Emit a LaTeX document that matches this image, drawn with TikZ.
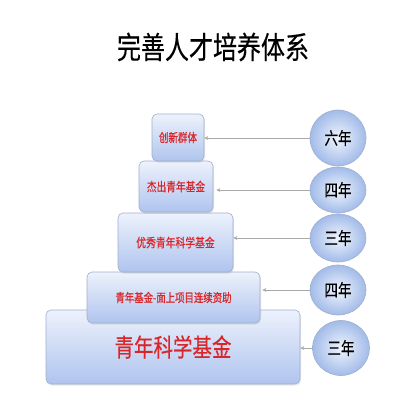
\documentclass[tikz,border=0pt]{standalone}
\usepackage{fontspec}
\setmainfont{Noto Sans CJK SC}
\newfontfamily\medfont[FakeBold=0.8]{Noto Sans CJK SC}
\newfontfamily\semifont[FakeBold=0.4]{Noto Sans CJK SC}
\usetikzlibrary{shapes.geometric,arrows.meta,shadows}
\definecolor{boxtop}{HTML}{EDF2FC}
\definecolor{boxbot}{HTML}{AFC4EE}
\definecolor{boxline}{HTML}{9FAFCB}
\definecolor{ballin}{HTML}{F0F5FD}
\definecolor{ballout}{HTML}{A2BBE9}
\definecolor{redtxt}{HTML}{D8262A}
\definecolor{arrowgray}{HTML}{A9A9A9}
\newcommand\stretchtxt[1]{\scalebox{1}[1.28]{#1}}
\tikzset{
  tier/.style={rectangle, rounded corners=5pt, draw=boxline, line width=0.6pt,
    top color=boxtop, bottom color=boxbot, text=redtxt, inner sep=0pt,
    drop shadow={opacity=0.18, shadow xshift=1pt, shadow yshift=-1.5pt}},
  ball/.style={ellipse, draw=boxline, line width=0.6pt, inner sep=0pt,
    shading=radial, inner color=ballin, outer color=ballout,
    font=\fontsize{13.5}{14}\selectfont\semifont},
  link/.style={draw=arrowgray, line width=0.7pt, -{Stealth[length=4pt,width=4pt]}}
}
\begin{document}
\begin{tikzpicture}[x=1pt,y=-1pt]
\useasboundingbox[fill=white] (0,0) rectangle (420,420);
\node[font=\fontsize{24}{26}\selectfont\semifont] (title) at (213,47) {\stretchtxt{完善人才培养体系}};
% tiers (bottom first)
\node[tier, minimum width=254pt, minimum height=74pt, font=\fontsize{19.5}{21}\selectfont\semifont] (b5) at (173,347) {\stretchtxt{青年科学基金}};
\node[tier, minimum width=173pt, minimum height=51pt, font=\fontsize{9.4}{10}\selectfont\medfont] (b4) at (173.5,297.5) {\stretchtxt{青年基金-面上项目连续资助}};
\node[tier, minimum width=115pt, minimum height=59pt, font=\fontsize{9.8}{10}\selectfont\medfont] (b3) at (175.5,242.5) {\stretchtxt{优秀青年科学基金}};
\node[tier, minimum width=74pt, minimum height=51pt, font=\fontsize{9.7}{10}\selectfont\medfont] (b2) at (176,186.5) {\stretchtxt{杰出青年基金}};
\node[tier, minimum width=52pt, minimum height=47pt, font=\fontsize{9.5}{10}\selectfont\medfont] (b1) at (178,137.5) {\stretchtxt{创新群体}};
% year balls
\node[ball, minimum width=56pt, minimum height=56pt] (c1) at (338,138) {\stretchtxt{六年}};
\node[ball, minimum width=56pt, minimum height=46pt] (c2) at (338,190) {\stretchtxt{四年}};
\node[ball, minimum width=56pt, minimum height=48pt] (c3) at (338,238) {\stretchtxt{三年}};
\node[ball, minimum width=56pt, minimum height=50pt] (c4) at (338,290) {\stretchtxt{四年}};
\node[ball, minimum width=57pt, minimum height=55pt] (c5) at (341,348) {\stretchtxt{三年}};
% links
\draw[link] (c1.west) -- (b1.east |- c1.west);
\draw[link] (c2.west) -- ([xshift=3pt]b2.east |- c2.west);
\draw[link] (c3.west) -- (b3.east |- c3.west);
\draw[link] (c4.west) -- ([xshift=2pt]b4.east |- c4.west);
\draw[link] (c5.west) -- (b5.east |- c5.west);
\end{tikzpicture}
\end{document}
